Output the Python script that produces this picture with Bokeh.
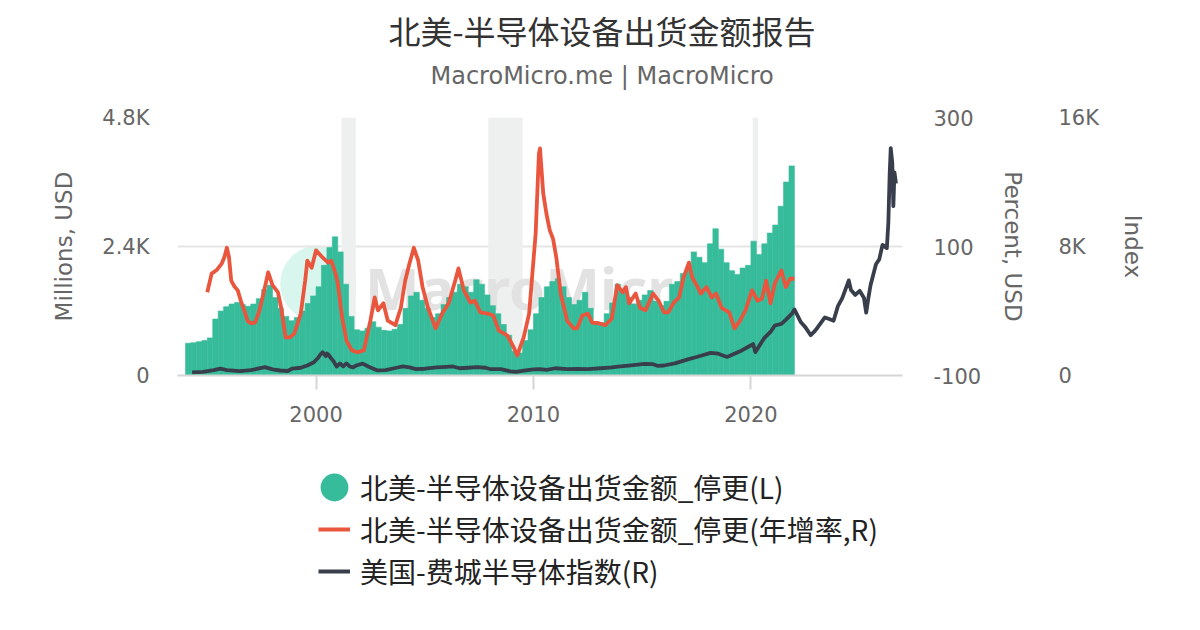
from bokeh.plotting import figure
from bokeh.layouts import column
from bokeh.models import (Range1d, LinearAxis, FixedTicker, Title, Legend, LegendItem,
                          BoxAnnotation, Label)
from bokeh.embed import file_html
from bokeh.resources import INLINE

# ---------------- data ----------------
TITLE = "北美-半导体设备出货金额报告"
SUBTITLE = "MacroMicro.me | MacroMicro"

SERIES_NAMES = ["北美-半导体设备出货金额_停更(L)",
                "北美-半导体设备出货金额_停更(年增率,R)",
                "美国-费城半导体指数(R)"]

# North America semiconductor equipment billings (Millions USD), quarterly from 1994 Q1
ship_start_year = 1994
ship_quarterly = [
    600, 610, 630, 650,        # 1994
    700, 1050, 1200, 1280,     # 1995
    1330, 1360, 1320, 1290,    # 1996
    1330, 1430, 1600, 1680,    # 1997
    1450, 1250, 1100, 1020,    # 1998
    1080, 1200, 1340, 1480,    # 1999
    1650, 2050, 2380, 2580,    # 2000
    2300, 1700, 1100, 850,     # 2001
    830, 880, 1000, 900,       # 2002
    840, 830, 860, 950,        # 2003
    1250, 1480, 1550, 1400,    # 2004
    1250, 1080, 1150, 1320,    # 2005
    1450, 1550, 1700, 1650,    # 2006
    1550, 1780, 1700, 1500,    # 2007
    1300, 1150, 950, 750,      # 2008
    450, 420, 650, 850,        # 2009
    1150, 1450, 1650, 1750,    # 2010
    1800, 1650, 1450, 1320,    # 2011
    1400, 1550, 1250, 1000,    # 2012
    980, 1150, 1350, 1700,     # 2013
    1600, 1450, 1330, 1400,    # 2014
    1500, 1580, 1380, 1300,    # 2015
    1380, 1700, 1750, 1900,    # 2016
    2000, 2300, 2200, 2100,    # 2017
    2450, 2730, 2350, 2100,    # 2018
    1950, 1880, 2000, 2050,    # 2019
    2500, 2250, 2450, 2650,    # 2020
    2800, 3150, 3600, 3900,    # 2021
]

# YoY growth (%)
yoy_time = [1995.0, 1995.2, 1995.45, 1995.67, 1995.8, 1995.9, 1996.0, 1996.1, 1996.25, 1996.4,
            1996.55, 1996.7, 1996.85, 1997.0, 1997.2, 1997.4, 1997.65, 1997.8, 1998.0, 1998.25,
            1998.4, 1998.6, 1998.8, 1999.0, 1999.3, 1999.5, 1999.6, 1999.8, 2000.0, 2000.3,
            2000.55, 2000.7, 2000.9, 2001.0, 2001.2, 2001.4, 2001.65, 2001.9, 2002.2, 2002.5,
            2002.7, 2002.85, 2003.1, 2003.3, 2003.65, 2003.9, 2004.1, 2004.3, 2004.5, 2004.7,
            2004.9, 2005.15, 2005.5, 2005.8, 2006.1, 2006.4, 2006.55, 2006.8, 2007.1, 2007.3,
            2007.55, 2007.9, 2008.15, 2008.4, 2008.8, 2009.1, 2009.25, 2009.55, 2009.8, 2009.95,
            2010.1, 2010.25, 2010.3, 2010.45, 2010.6, 2010.75, 2010.9, 2011.05, 2011.25, 2011.55,
            2011.85, 2012.0, 2012.25, 2012.5, 2012.7, 2013.0, 2013.3, 2013.6, 2013.85, 2014.1,
            2014.25, 2014.4, 2014.7, 2014.9, 2015.15, 2015.5, 2015.75, 2016.0, 2016.2, 2016.45,
            2016.7, 2016.9, 2017.15, 2017.3, 2017.55, 2017.7, 2017.95, 2018.2, 2018.4, 2018.65,
            2019.0, 2019.25, 2019.5, 2019.75, 2020.05, 2020.3, 2020.5, 2020.7, 2020.9, 2021.1,
            2021.4, 2021.6, 2021.8, 2022.0]
yoy_value = [29, 58, 64, 74, 85, 98, 83, 47, 38, 32,
             15, 1, -15, -19, -18, 1, 37, 60, 40, 29,
             5, -41, -41, -35, -4, 47, 78, 67, 94, 83,
             75, 78, 58, 43, -10, -46, -61, -64, -61, -15,
             21, 1, 12, -15, -22, 5, 47, 74, 98, 78,
             37, 5, -27, -4, 12, 47, 66, 32, 13, 16,
             -2, -4, -7, -30, -38, -57, -69, -41, -4, 58,
             120, 244, 252, 182, 150, 125, 112, 83, 27, -15,
             -27, -27, -7, -4, -18, -19, -22, -12, 40, 29,
             37, 12, 27, 5, 1, 27, 16, -2, -2, 13,
             21, 52, 75, 52, 37, 27, 37, 21, 27, 5,
             -2, -27, -15, 1, 32, 16, 19, 47, 12, 43,
             63, 37, 50, 50]

# Philadelphia Semiconductor Index
sox_time = [1994.3, 1994.8, 1995.3, 1995.6, 1995.9, 1996.5, 1997.0, 1997.65, 1998.0, 1998.35,
            1998.7, 1998.9, 1999.3, 1999.6, 1999.9, 2000.1, 2000.2, 2000.3, 2000.45, 2000.5,
            2000.6, 2000.7, 2000.8, 2000.95, 2001.1, 2001.25, 2001.4, 2001.55, 2001.7, 2001.85,
            2002.15, 2002.4, 2002.8, 2003.2, 2003.7, 2004.0, 2004.3, 2004.6, 2005.0, 2005.55,
            2006.0, 2006.3, 2006.6, 2007.0, 2007.4, 2007.8, 2008.0, 2008.5, 2008.95, 2009.2,
            2009.55, 2010.0, 2010.3, 2010.6, 2011.0, 2011.55, 2012.0, 2012.5, 2013.1, 2013.6,
            2014.0, 2014.6, 2015.1, 2015.5, 2015.7, 2016.0, 2016.5, 2017.1, 2017.5, 2018.15,
            2018.5, 2018.9, 2019.5, 2019.9, 2020.1, 2020.2, 2020.6, 2020.9, 2021.1, 2021.4,
            2021.6, 2021.9, 2022.0, 2022.3, 2022.5, 2022.75, 2022.9, 2023.05, 2023.4, 2023.6,
            2023.8, 2024.0, 2024.2, 2024.5, 2024.6, 2024.8, 2025.0, 2025.2, 2025.3, 2025.4,
            2025.5, 2025.75, 2025.9, 2026.05, 2026.25, 2026.32, 2026.38, 2026.43, 2026.5, 2026.55,
            2026.6, 2026.67]
sox_value = [200, 230, 330, 430, 330, 270, 330, 515, 380, 310,
             280, 430, 480, 620, 820, 1100, 1300, 1445, 1200, 1360,
             1250, 1050, 900, 550, 750, 560, 750, 560, 500, 620,
             740, 560, 320, 330, 480, 560, 500, 400, 420, 500,
             540, 560, 450, 480, 520, 480, 400, 390, 250, 220,
             300, 380, 400, 350, 450, 400, 410, 400, 450, 500,
             560, 650, 720, 700, 600, 620, 750, 1000, 1150, 1400,
             1350, 1150, 1500, 1800, 1950, 1450, 2300, 2700, 3100, 3200,
             3450, 3850, 4100, 3300, 3000, 2500, 2700, 2950, 3600, 3500,
             3400, 4300, 4800, 5900, 5300, 5000, 5250, 4800, 3900, 4800,
             5600, 6900, 7200, 8100, 7900, 9500, 12500, 14100, 13200, 10500,
             12600, 11900]

recession_start = [2001.17, 2007.92, 2020.08]
recession_end = [2001.83, 2009.50, 2020.33]

left_ticks = [0, 2400, 4800]
left_labels = ["0", "2.4K", "4.8K"]
yoy_ticks = [-100, 100, 300]
yoy_labels = ["-100", "100", "300"]
sox_ticks = [0, 8000, 16000]
sox_labels = ["0", "8K", "16K"]
year_ticks = [2000, 2010, 2020]

# ---------------- style ----------------
GREEN = "#37bc9b"
RED = "#e9553d"
DARK = "#383e4b"
TICK_FONT = "DejaVu Sans"
GREY = "#666666"

ship_x = [ship_start_year + 0.25 * i + 0.125 for i in range(len(ship_quarterly))]

p = figure(width=1184, height=430, x_range=Range1d(1993.63, 2026.97), y_range=Range1d(0, 4800),
           output_backend="svg", toolbar_location=None, title=None,
           min_border_left=177, min_border_right=282, min_border_top=117, min_border_bottom=55)
p.extra_y_ranges = {"yoy": Range1d(-100, 300), "sox": Range1d(0, 16000)}
p.outline_line_color = None
p.background_fill_color = "white"
p.border_fill_color = "white"

p.xgrid.grid_line_color = None
p.ygrid.grid_line_color = "#e6e6e6"
p.ygrid.grid_line_width = 2
p.ygrid.ticker = FixedTicker(ticks=left_ticks)

def style_axis(ax):
    ax.major_label_text_font = TICK_FONT
    ax.major_label_text_font_size = "21px"
    ax.major_label_text_color = GREY
    ax.axis_label_text_font = TICK_FONT
    ax.axis_label_text_font_size = "23px"
    ax.axis_label_text_color = GREY
    ax.axis_label_text_font_style = "normal"
    ax.minor_tick_line_color = None

# x axis
xa = p.xaxis[0]
style_axis(xa)
xa.ticker = FixedTicker(ticks=year_ticks)
xa.axis_line_color = "#d6d6d6"
xa.axis_line_width = 2
xa.major_tick_line_color = "#d6d6d6"
xa.major_tick_line_width = 2
xa.major_tick_in = 0
xa.major_tick_out = 14
xa.major_label_standoff = 16

# left axis
ya = p.yaxis[0]
style_axis(ya)
ya.ticker = FixedTicker(ticks=left_ticks)
ya.major_label_overrides = dict(zip(left_ticks, left_labels))
ya.axis_line_color = None
ya.major_tick_line_color = None
ya.major_tick_in = 0
ya.major_tick_out = 0
ya.major_label_standoff = 28
ya.axis_label = "Millions, USD"
ya.axis_label_standoff = 22

# right axes
ax1 = LinearAxis(y_range_name="yoy", axis_label="Percent, USD")
style_axis(ax1)
ax1.ticker = FixedTicker(ticks=yoy_ticks)
ax1.major_label_overrides = dict(zip(yoy_ticks, yoy_labels))
ax1.axis_line_color = None
ax1.major_tick_line_color = None
ax1.major_tick_in = 0
ax1.major_tick_out = 0
ax1.major_label_standoff = 31
ax1.axis_label_standoff = 16
p.add_layout(ax1, "right")

ax2 = LinearAxis(y_range_name="sox", axis_label="Index")
style_axis(ax2)
ax2.ticker = FixedTicker(ticks=sox_ticks)
ax2.major_label_overrides = dict(zip(sox_ticks, sox_labels))
ax2.axis_line_color = None
ax2.major_tick_line_color = None
ax2.major_tick_in = 0
ax2.major_tick_out = 0
ax2.major_label_standoff = 29
ax2.axis_label_standoff = 18
p.add_layout(ax2, "right")

# recession bands
for s, e in zip(recession_start, recession_end):
    p.add_layout(BoxAnnotation(left=s, right=e, fill_color="#eef0ef", fill_alpha=1.0,
                               line_color=None, level="underlay"))

# watermark
p.scatter(x=[2000.1], y=[1710], size=76, marker="circle", fill_color="#d9f6ee",
          line_color=None, level="underlay")
p.add_layout(Label(x=2002.25, y=900, text="MacroMicro", text_font="Noto Sans",
                   text_font_style="bold", text_font_size="58px", text_color="#e2e2e2",
                   level="underlay"))

# series
p.vbar(x=ship_x, top=ship_quarterly, width=0.25, bottom=0,
       fill_color=GREEN, line_color=GREEN, line_width=0.6)
p.line(yoy_time, yoy_value, y_range_name="yoy", line_color=RED, line_width=3.8,
       line_join="round")
p.line(sox_time, sox_value, y_range_name="sox", line_color=DARK, line_width=3.8,
       line_join="round")

# titles (added inner first): spacer, subtitle, title
p.add_layout(Title(text=" ", text_font_size="2px", standoff=19), "above")
p.add_layout(Title(text=SUBTITLE, align="left", offset=253, text_font=TICK_FONT,
                   text_font_size="24px", text_color=GREY, text_font_style="normal",
                   standoff=10), "above")
p.add_layout(Title(text=TITLE, align="left", offset=211, text_font="Noto Sans CJK SC",
                   text_font_size="32px", text_color="#333333", text_font_style="normal",
                   standoff=4), "above")

# ---------------- legend panel ----------------
pl = figure(width=1184, height=184, x_range=Range1d(0, 1), y_range=Range1d(0, 1),
            output_backend="svg", toolbar_location=None, title=None,
            x_axis_location=None, y_axis_location=None, min_border=0)
pl.outline_line_color = None
pl.grid.grid_line_color = None
pl.background_fill_color = "white"
pl.border_fill_color = "white"

# legend swatches: renderers kept outside the visible range of this panel
leg_dot = pl.scatter(x=[-5], y=[-5], marker="circle", size=10, fill_color=GREEN,
                     line_color=GREEN, line_width=15)
leg_red = pl.line(x=[-5, -4], y=[-5, -5], line_color=RED, line_width=4)
leg_dark = pl.line(x=[-5, -4], y=[-5, -5], line_color=DARK, line_width=4)

legend = Legend(items=[LegendItem(label=SERIES_NAMES[0], renderers=[leg_dot]),
                       LegendItem(label=SERIES_NAMES[1], renderers=[leg_red]),
                       LegendItem(label=SERIES_NAMES[2], renderers=[leg_dark])],
                location=(141, 23), orientation="vertical",
                glyph_width=32, glyph_height=32, label_standoff=10, spacing=2,
                padding=0, margin=0, border_line_color=None, background_fill_alpha=0,
                label_text_font="Noto Sans CJK SC", label_text_font_size="28px",
                label_text_color="#222222")
pl.add_layout(legend, "center")

layout = column(p, pl, spacing=0)
open("out.html", "w").write(file_html(layout, INLINE))
